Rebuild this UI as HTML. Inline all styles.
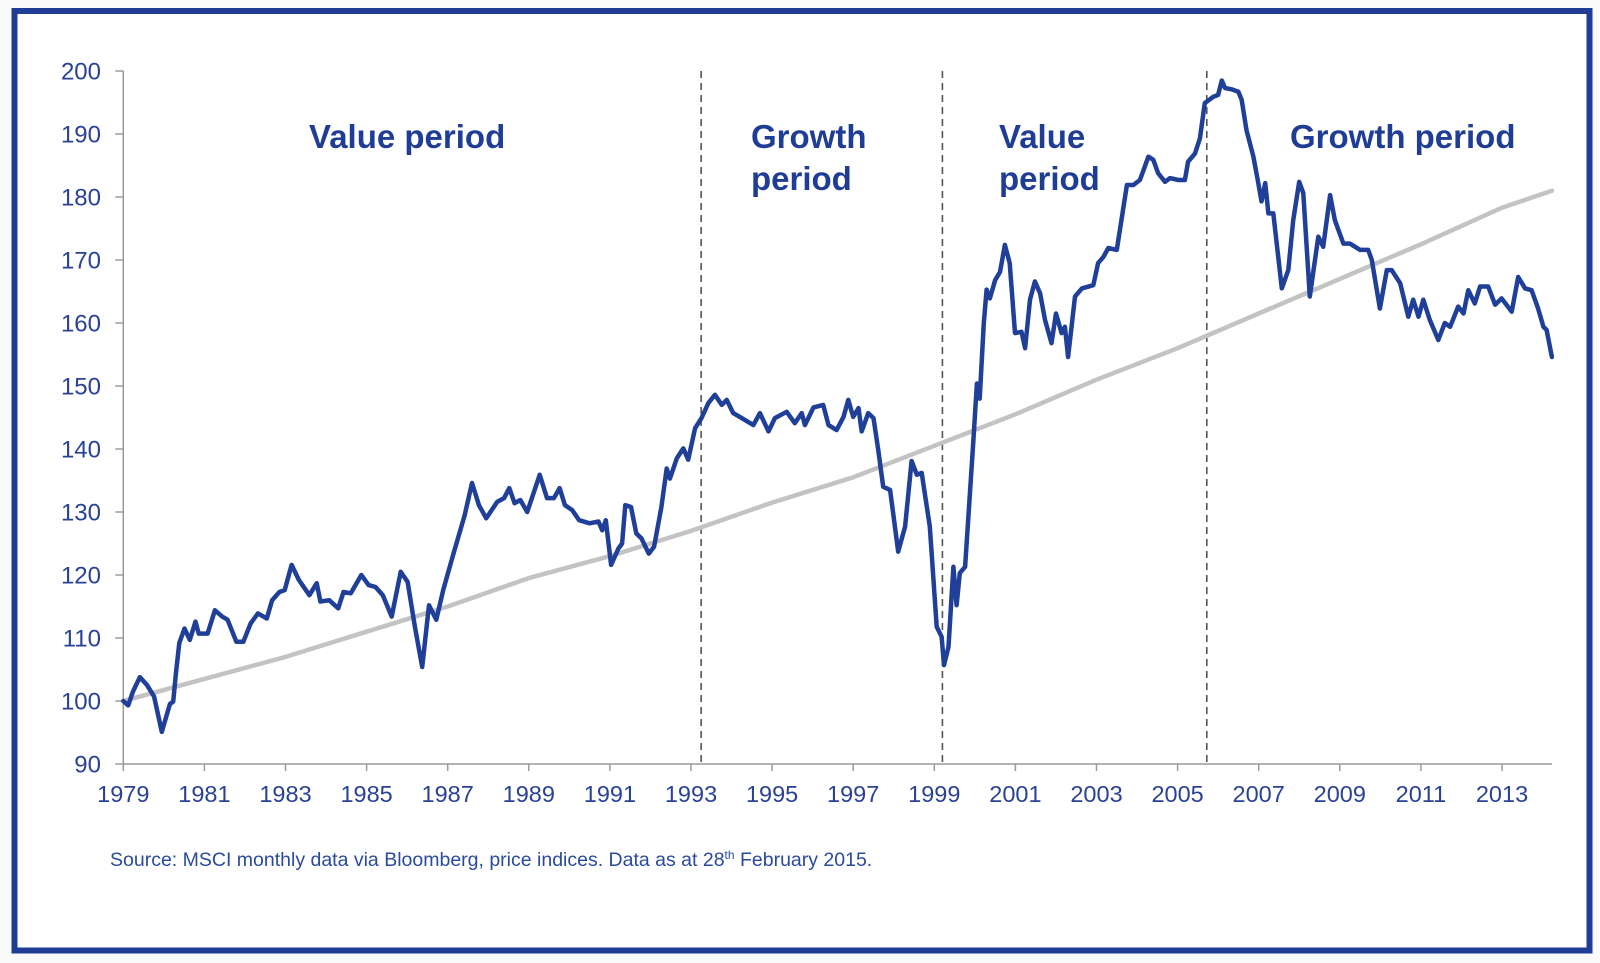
<!DOCTYPE html>
<html><head><meta charset="utf-8"><style>
html,body{margin:0;padding:0;background:#fafafa;}
svg{display:block;}
text{font-family:"Liberation Sans",Arial,sans-serif;}
</style></head><body>
<svg id="chart" width="1600" height="963" viewBox="0 0 1600 963" xmlns="http://www.w3.org/2000/svg">
<rect x="0" y="0" width="1600" height="963" fill="#fafafa"/>
<rect x="14.5" y="11" width="1575" height="939.5" fill="#ffffff" stroke="#1f3d94" stroke-width="6"/>
<g id="axes"></g>
<g id="marks"></g>
<text x="309" y="148" font-size="33" font-weight="bold" fill="#1f3d94">Value period</text>
<text x="751" y="148" font-size="33" font-weight="bold" fill="#1f3d94">Growth</text>
<text x="751" y="190" font-size="33" font-weight="bold" fill="#1f3d94">period</text>
<text x="999" y="148" font-size="33" font-weight="bold" fill="#1f3d94">Value</text>
<text x="999" y="190" font-size="33" font-weight="bold" fill="#1f3d94">period</text>
<text x="1290" y="148" font-size="33" font-weight="bold" fill="#1f3d94">Growth period</text>
<text x="110" y="866" font-size="19.5" fill="#2a4a9c">Source: MSCI monthly data via Bloomberg, price indices. Data as at 28<tspan font-size="12" dy="-7">th</tspan><tspan dy="7"> February 2015.</tspan></text>
</svg>
<script>
const yTicks = [90,100,110,120,130,140,150,160,170,180,190,200];
const xTickYears = [1979,1981,1983,1985,1987,1989,1991,1993,1995,1997,1999,2001,2003,2005,2007,2009,2011,2013];
const periodBreaks = [1993.25, 1999.2, 2005.72];
const trendYears = [1979,1981,1983,1985,1987,1989,1991,1993,1995,1997,1999,2001,2003,2005,2007,2009,2011,2013,2014.23];
const trendValues = [100,103.5,107,111,115,119.5,123,127,131.5,135.5,140.5,145.5,151,156,161.5,167,172.5,178.3,181];
const indexYears = [1979.0,1979.12,1979.24,1979.41,1979.59,1979.76,1979.95,1980.15,1980.23,1980.3,1980.38,1980.51,1980.64,1980.78,1980.86,1981.08,1981.26,1981.44,1981.57,1981.79,1981.96,1982.14,1982.32,1982.54,1982.67,1982.85,1982.98,1983.15,1983.33,1983.59,1983.77,1983.86,1984.08,1984.30,1984.43,1984.61,1984.87,1985.05,1985.22,1985.40,1985.62,1985.84,1986.01,1986.19,1986.37,1986.54,1986.72,1986.89,1987.12,1987.42,1987.60,1987.77,1987.95,1988.22,1988.39,1988.52,1988.65,1988.79,1988.96,1989.27,1989.45,1989.62,1989.76,1989.89,1990.07,1990.24,1990.50,1990.72,1990.81,1990.90,1991.03,1991.21,1991.30,1991.38,1991.52,1991.65,1991.78,1991.96,1992.09,1992.27,1992.40,1992.48,1992.65,1992.81,1992.93,1993.1,1993.26,1993.43,1993.59,1993.76,1993.88,1994.04,1994.25,1994.54,1994.7,1994.91,1995.07,1995.36,1995.56,1995.73,1995.81,1996.02,1996.26,1996.39,1996.59,1996.76,1996.88,1997.0,1997.13,1997.21,1997.37,1997.5,1997.62,1997.74,1997.91,1998.11,1998.28,1998.44,1998.57,1998.69,1998.89,1999.06,1999.18,1999.24,1999.35,1999.47,1999.55,1999.63,1999.76,1999.96,2000.05,2000.12,2000.22,2000.29,2000.37,2000.5,2000.62,2000.74,2000.86,2000.99,2001.15,2001.24,2001.36,2001.48,2001.61,2001.73,2001.89,2002.0,2002.14,2002.22,2002.3,2002.47,2002.64,2002.92,2003.04,2003.17,2003.29,2003.5,2003.75,2003.91,2004.07,2004.28,2004.4,2004.52,2004.69,2004.81,2005.02,2005.18,2005.26,2005.43,2005.55,2005.67,2005.88,2006.0,2006.09,2006.17,2006.33,2006.5,2006.58,2006.7,2006.87,2006.99,2007.07,2007.16,2007.24,2007.36,2007.57,2007.73,2007.85,2008.0,2008.1,2008.26,2008.47,2008.59,2008.76,2008.88,2009.09,2009.25,2009.5,2009.7,2009.79,2009.99,2010.16,2010.28,2010.49,2010.69,2010.81,2010.94,2011.06,2011.22,2011.43,2011.59,2011.72,2011.92,2012.05,2012.17,2012.33,2012.46,2012.66,2012.83,2012.99,2013.24,2013.4,2013.57,2013.73,2013.89,2014.02,2014.1,2014.23];
const indexValues = [100,99.3,101.5,103.8,102.5,100.7,95.1,99.5,99.9,104.5,109.2,111.5,109.7,112.6,110.7,110.7,114.4,113.4,112.9,109.4,109.4,112.3,113.9,113.1,116,117.3,117.6,121.6,119.2,116.8,118.7,115.8,116,114.7,117.3,117.1,120,118.4,118.1,116.8,113.4,120.5,118.9,111.8,105.4,115.2,112.9,117.6,122.9,129.5,134.6,131.1,129,131.6,132.2,133.8,131.4,131.9,130,135.9,132.2,132.2,133.8,131.1,130.3,128.7,128.2,128.5,127.1,128.7,121.6,124.2,125,131.1,130.8,126.6,125.8,123.4,124.5,130.8,136.9,135.3,138.5,140.1,138.3,143.3,144.9,147.3,148.6,147,147.8,145.7,144.9,143.8,145.7,142.8,144.9,145.9,144.1,145.7,143.8,146.6,147,143.8,143,145.1,147.8,145.1,146.5,142.8,145.7,144.9,139.8,134,133.5,123.7,127.7,138.1,135.9,136.2,127.7,111.8,110.2,105.7,108.6,121.3,115.2,120.3,121.3,140.9,150.4,148,160,165.3,163.9,166.8,168.1,172.4,169.5,158.4,158.6,156,163.7,166.6,164.7,160.5,156.8,161.5,158.4,159.4,154.6,164.2,165.5,166,169.5,170.5,171.9,171.6,181.9,181.9,182.7,186.4,185.9,183.8,182.4,183,182.7,182.7,185.6,186.9,189.3,194.9,195.9,196.2,198.5,197.3,197.1,196.7,195.4,190.6,186.4,182.2,179.3,182.2,177.4,177.4,165.5,168.4,176.3,182.4,180.6,164.2,173.7,172.1,180.3,176.3,172.6,172.6,171.6,171.6,170,162.3,168.4,168.4,166.3,161,163.7,161,163.7,160.5,157.3,160,159.4,162.6,161.5,165.2,163.1,165.8,165.8,162.9,163.9,161.8,167.3,165.5,165.2,162.3,159.4,158.9,154.6];

const NS = "http://www.w3.org/2000/svg";
const X0 = 123.3, PX_PER_YEAR = 40.55, Y200 = 71, PX_PER_UNIT = 6.3;
function xScale(yr){ return X0 + (yr - 1979) * PX_PER_YEAR; }
function yScale(v){ return Y200 + (200 - v) * PX_PER_UNIT; }
const axisRight = 1552, axisBottom = yScale(90);
const axes = document.getElementById('axes');
const marks = document.getElementById('marks');
function mk(tag, attrs, parent){ const e = document.createElementNS(NS, tag); for (const k in attrs) e.setAttribute(k, attrs[k]); parent.appendChild(e); return e; }

const yAxis = mk('line', {x1:X0, y1:yScale(200), x2:X0, y2:axisBottom, stroke:'#9a9a9a', 'stroke-width':1.5}, axes);


const xAxis = mk('line', {x1:X0, y1:axisBottom, x2:axisRight, y2:axisBottom, stroke:'#9a9a9a', 'stroke-width':1.5}, axes);



yTicks.forEach(v => {
  const y = yScale(v);
  const t = mk('line', {x1:X0-8, y1:y, x2:X0, y2:y, stroke:'#9a9a9a', 'stroke-width':1.5}, axes);
  
  
  const l = mk('text', {x:101, y:y+8.5, 'text-anchor':'end', 'font-size':24, fill:'#2a4295'}, axes);
  l.textContent = v;
  
  
});
xTickYears.forEach(yr => {
  const x = xScale(yr);
  const t = mk('line', {x1:x, y1:axisBottom, x2:x, y2:axisBottom+7, stroke:'#9a9a9a', 'stroke-width':1.5}, axes);
  
  
  const l = mk('text', {x:x, y:802, 'text-anchor':'middle', 'font-size':23.5, fill:'#2a4295'}, axes);
  l.textContent = yr;
  
  
});
periodBreaks.forEach(yr => {
  const d = mk('line', {x1:xScale(yr), y1:yScale(200), x2:xScale(yr), y2:axisBottom, stroke:'#555', 'stroke-width':1.6, 'stroke-dasharray':'7,5'}, marks);
  
  
});
const trend = mk('polyline', {points: trendYears.map((y,i)=>xScale(y).toFixed(1)+','+yScale(trendValues[i]).toFixed(1)).join(' '), fill:'none', stroke:'#c3c3c3', 'stroke-width':4.5, 'stroke-linejoin':'round', 'stroke-linecap':'round'}, marks);


const series = mk('polyline', {points: indexYears.map((y,i)=>xScale(y).toFixed(1)+','+yScale(indexValues[i]).toFixed(1)).join(' '), fill:'none', stroke:'#1f3f99', 'stroke-width':4.5, 'stroke-linejoin':'round', 'stroke-linecap':'round'}, marks);


</script>
</body></html>
